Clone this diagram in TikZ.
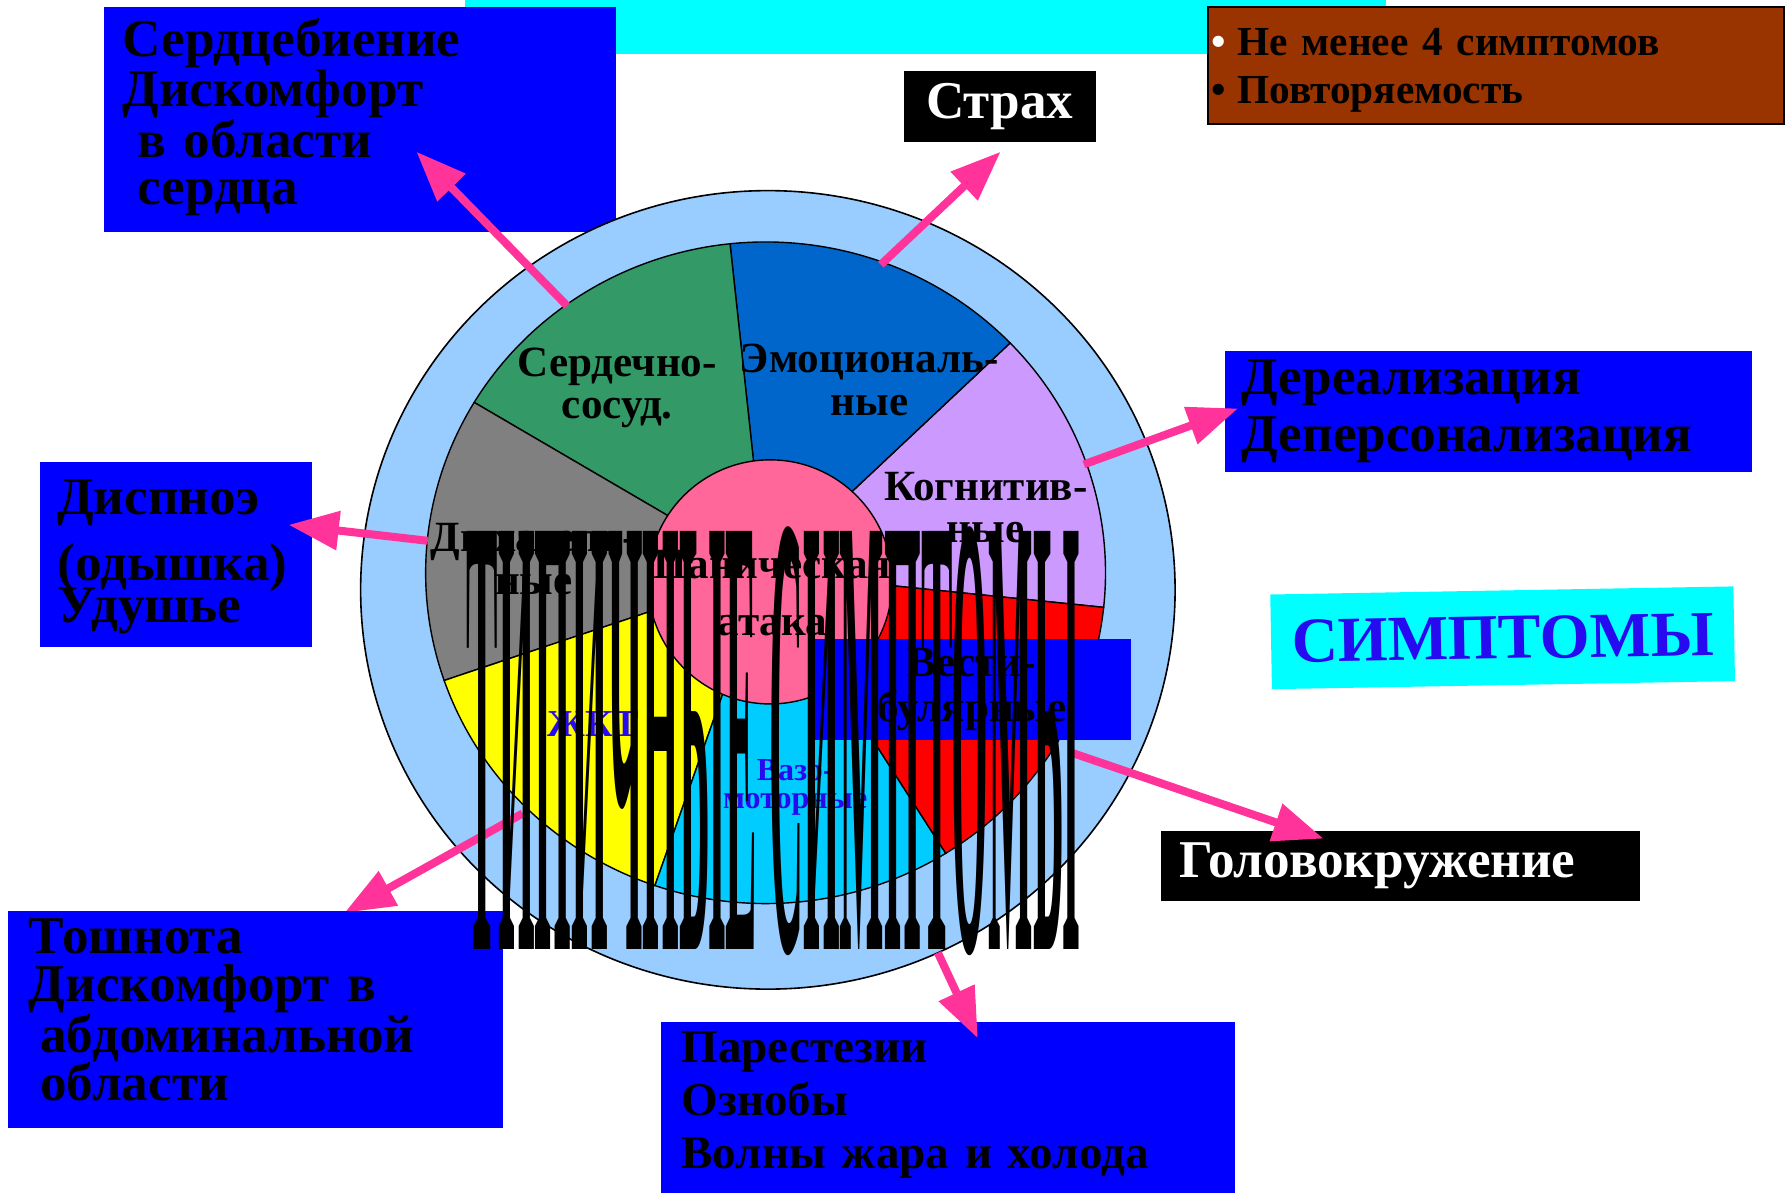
\documentclass[tikz,border=0pt]{standalone}
\usepackage{fontspec}
\setmainfont{Liberation Serif}
\usepackage{graphicx}
\usetikzlibrary{arrows.meta}
\definecolor{boxblue}{RGB}{0,0,255}
\definecolor{topcyan}{RGB}{0,255,255}
\definecolor{brownbox}{RGB}{153,51,0}
\definecolor{ringblue}{RGB}{153,204,255}
\definecolor{arrowpink}{RGB}{255,51,153}
\definecolor{cardgreen}{RGB}{51,153,102}
\definecolor{emoblue}{RGB}{0,102,204}
\definecolor{koglilac}{RGB}{204,153,255}
\definecolor{vestred}{RGB}{255,0,0}
\definecolor{vasocyan}{RGB}{0,204,255}
\definecolor{giyellow}{RGB}{255,255,0}
\definecolor{respgray}{RGB}{128,128,128}
\definecolor{panicpink}{RGB}{255,102,153}
\definecolor{labelblue}{RGB}{40,10,240}

\begin{document}
\begin{tikzpicture}[x=0.02cm,y=-0.02cm,
 b/.style={fill=boxblue,anchor=north west,align=left,inner ysep=0pt,font=\fontsize{26.5}{23.7}\selectfont\bfseries},
 k/.style={fill=black,text=white,anchor=north west,inner ysep=0pt,font=\fontsize{26.5}{24}\selectfont\bfseries},
 sl/.style={align=center,inner sep=0pt,font=\fontsize{21.5}{21}\selectfont\bfseries},
 a/.style={-{Triangle[length=0.88cm,width=0.66cm]},line width=4pt,arrowpink}]
\useasboundingbox (0,0) rectangle (1568,1045);
% top
\node[fill=topcyan,anchor=north west,inner sep=0pt,minimum width=16.16cm,minimum height=0.94cm] (title) at (407,0) {};
\node[b,inner xsep=0.32cm,text width=8.34cm,text height=0.86cm,text depth=3.08cm,font=\fontsize{26.5}{23.2}\selectfont\bfseries] (heart) at (91,6) {Сердцебиение\\Дискомфорт\\\hspace*{0.26cm}в области\\\hspace*{0.26cm}сердца};
\node[fill=brownbox,draw=black,line width=1pt,anchor=north west,align=left,inner xsep=0.06cm,inner ysep=0pt,text width=9.98cm,text height=0.86cm,text depth=1.2cm,font=\fontsize{20.6}{24}\selectfont\bfseries] (crit) at (1058,5) {{\color{white}•}\hspace{0.2cm}Не менее 4 симптомов\\•\hspace{0.2cm}Повторяемость};
\node[k,inner xsep=0pt,minimum width=3.36cm,minimum height=1.24cm] (fear) at (792,62) {Страх};
% circle
\filldraw[fill=ringblue,line width=0.8pt] (673,517) ellipse[x radius=7.14cm,y radius=7cm];
\begin{scope}[shift={(671,502)},x=1cm,y=1cm,line width=0.7pt]
\filldraw[fill=koglilac] (0,0) -- (-6:5.96cm and 5.8cm) arc[start angle=-6,end angle=44,x radius=5.96cm,y radius=5.8cm] -- cycle;
\filldraw[fill=emoblue] (0,0) -- (44:5.96cm and 5.8cm) arc[start angle=44,end angle=96,x radius=5.96cm,y radius=5.8cm] -- cycle;
\filldraw[fill=cardgreen] (0,0) -- (96:5.96cm and 5.8cm) arc[start angle=96,end angle=149,x radius=5.96cm,y radius=5.8cm] -- cycle;
\filldraw[fill=respgray] (0,0) -- (149:5.96cm and 5.8cm) arc[start angle=149,end angle=199,x radius=5.96cm,y radius=5.8cm] -- cycle;
\filldraw[fill=giyellow] (0,0) -- (199:5.96cm and 5.8cm) arc[start angle=199,end angle=251,x radius=5.96cm,y radius=5.8cm] -- cycle;
\filldraw[fill=vasocyan] (0,0) -- (251:5.96cm and 5.8cm) arc[start angle=251,end angle=302,x radius=5.96cm,y radius=5.8cm] -- cycle;
\filldraw[fill=vestred] (0,0) -- (302:5.96cm and 5.8cm) arc[start angle=302,end angle=354,x radius=5.96cm,y radius=5.8cm] -- cycle;
\end{scope}
\node[circle,fill=panicpink,draw=black,line width=0.7pt,inner sep=0pt,minimum size=4.28cm] (panic) at (675,510) {};
% sector labels
\node[sl] (cardlbl) at (541,340) {Сердечно-\\сосуд.};
\node[sl] (emolbl) at (762,333) {Эмоциональ-\\ные};
\node[sl] (koglbl) at (864,445) {Когнитив-\\ные};
\node[sl] (resplbl) at (468,490) {Дыхатель-\\ные};
\node[sl] (paniclbl) at (677,520) {Паническая\\[7.5pt]атака};
\node[sl,text=labelblue,font=\fontsize{19}{19}\selectfont\bfseries] (gilbl) at (520,635) {ЖКТ};
\node[sl,text=labelblue,font=\fontsize{16}{14.2}\selectfont\bfseries] (vasolbl) at (697,690) {Вазо-\\моторные};
\node[sl,fill=boxblue,anchor=north west,minimum width=5.58cm,minimum height=1.76cm,font=\fontsize{21.5}{22.8}\selectfont\bfseries] (vestlbl) at (712,560) {Вести-\\булярные};
% boxes
\node[b,inner xsep=0.3cm,text width=4.16cm,text height=0.92cm,text depth=2.32cm] (breath) at (35,405) {Диспноэ\\[7.6pt](одышка)\\[-2.6pt]Удушье};
\node[b,inner xsep=0.3cm,text width=8.64cm,minimum height=2.12cm,font=\fontsize{26.5}{28.5}\selectfont\bfseries] (dereal) at (1073,307) {Дереализация\\Деперсонализация};
\node[fill=topcyan,rotate=1,inner sep=0pt,minimum width=8.12cm,minimum height=1.66cm,text=labelblue,font=\fontsize{32}{32}\selectfont\bfseries] (symp) at (1317,559) {СИМПТОМЫ};
\node[k,inner xsep=0.32cm,text width=7.76cm,minimum height=1.22cm] (dizzy) at (1017,728) {Головокружение};
\node[b,inner xsep=0.36cm,text width=9.34cm,text height=0.72cm,text depth=2.28cm,font=\fontsize{23.5}{26.5}\selectfont\bfseries] (pares) at (579,895) {Парестезии\\Ознобы\\Волны жара и холода};
% arrows
\coordinate (cardout) at (497,268); \coordinate (cardtip) at (365,133);
\coordinate (emoout) at (772,232); \coordinate (emotip) at (877,133);
\coordinate (kogout) at (950,407); \coordinate (kogtip) at (1085,358);
\coordinate (respout) at (375,474); \coordinate (resptip) at (253,460);
\coordinate (vestout) at (940,660); \coordinate (vesttip) at (1160,735);
\coordinate (giout) at (458,713); \coordinate (gitip) at (302,800);
\coordinate (vasoout) at (822,835); \coordinate (vasotip) at (857,910);
\draw[a] (cardout)--(cardtip); \draw[a] (emoout)--(emotip); \draw[a] (kogout)--(kogtip);
\draw[a] (respout)--(resptip); \draw[a] (vestout)--(vesttip); \draw[a] (giout)--(gitip);
\draw[a] (vasoout)--(vasotip);
\node[b,inner xsep=0.36cm,text width=7.96cm,text height=0.75cm,text depth=3.05cm] (nausea) at (7,798) {Тошнота\\Дискомфорт в\\\hspace*{0.2cm}абдоминальной\\\hspace*{0.2cm}области};
% overlay
\node[inner sep=0pt] (typical) at (677.5,650) {\resizebox{10.74cm}{7.4cm}{\bfseries ТИПИЧНЫЕ СИМПТОМЫ}};
\end{tikzpicture}
\end{document}
